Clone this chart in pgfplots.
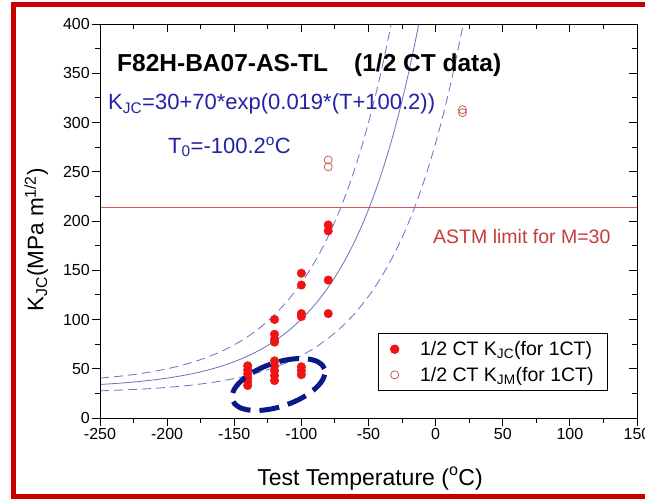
\documentclass[border=0pt]{standalone}
\usepackage{fontspec}
\setmainfont{Liberation Sans}
\usepackage{pgfplots}
\pgfplotsset{compat=1.18}
\definecolor{framered}{RGB}{200,0,0}
\definecolor{eqblue}{RGB}{35,35,165}
\definecolor{curveblue}{RGB}{110,110,195}
\definecolor{astmred}{RGB}{200,60,60}
\definecolor{limitred}{RGB}{215,85,85}
\definecolor{ptred}{RGB}{238,20,20}
\definecolor{openred}{RGB}{200,95,85}
\definecolor{navyann}{RGB}{10,25,135}
\begin{document}
\begin{tikzpicture}
\useasboundingbox (0pt,0pt) rectangle (645pt,499pt);
\fill[white] (0pt,0pt) rectangle (645pt,499pt);
\begin{axis}[
  at={(100pt,81pt)}, anchor=south west,
  scale only axis, width=537pt, height=394pt,
  xmin=-250, xmax=150, ymin=0, ymax=400,
  xtick={-250,-200,...,150}, ytick={0,50,...,400},
  minor x tick num=1, minor y tick num=1,
  xtick pos=left, ytick pos=left,
  tick align=outside,
  major tick length=8pt, minor tick length=5pt,
  every tick/.style={black, line width=0.9pt},
  axis line style={line width=1pt, black},
  tick label style={font=\fontsize{16}{19}\selectfont},
  xticklabel style={inner sep=2pt},
  yticklabel style={inner sep=2pt},
  /pgf/number format/assume math mode=true,
  legend style={at={(0.5177,0.2157)}, anchor=north west, draw=black, line width=0.8pt,
    font=\fontsize{19.5}{22}\selectfont, inner xsep=12pt, inner ysep=6pt, row sep=6pt,
    /tikz/every odd column/.append style={column sep=19pt}},
  legend cell align=left,
  legend image code/.code={\draw[mark repeat=2,mark phase=2,#1] plot coordinates {(0pt,0pt) (8pt,0pt) (16pt,0pt)};},
]
% ASTM limit
\addplot[forget plot, mark=none, line width=1pt, draw=limitred] coordinates {(-250,214) (150,214)};
% mean curve
\addplot[forget plot, curveblue, line width=0.8pt, smooth] coordinates {
(-250,34.06) (-240,34.91) (-230,35.94) (-220,37.19) (-210,38.69) (-200,40.51)
(-190,42.71) (-180,45.37) (-170,48.59) (-160,52.47) (-150,57.18) (-140,62.86)
(-130,69.74) (-120,78.05) (-110,88.11) (-100,100.27) (-95,107.27) (-90,114.97)
(-85,123.44) (-80,132.75) (-75,142.99) (-70,154.25) (-65,166.63) (-60,180.25)
(-55,195.22) (-50,211.69) (-45,229.80) (-40,249.70) (-35,271.60) (-30,295.68)
(-25,322.16) (-20,351.27) (-15,383.29) (-12.57,400)};
% upper bound
\addplot[forget plot, curveblue, line width=0.8pt, smooth, dash pattern=on 9pt off 5pt] coordinates {
(-250,40.53) (-240,41.77) (-230,43.28) (-220,45.09) (-210,47.29) (-200,49.94)
(-190,53.16) (-180,57.04) (-170,61.73) (-160,67.41) (-150,74.28) (-140,82.58)
(-130,92.62) (-120,104.76) (-110,119.44) (-100,137.19) (-95,147.41) (-90,158.66)
(-85,171.02) (-80,184.62) (-75,199.57) (-70,216.01) (-65,234.08) (-60,253.96)
(-55,275.83) (-50,299.86) (-45,326.30) (-40,355.37) (-35,387.34) (-33.15,400)};
% lower bound
\addplot[forget plot, curveblue, line width=0.8pt, smooth, dash pattern=on 9pt off 5pt] coordinates {
(-250,27.60) (-240,28.05) (-230,28.61) (-220,29.28) (-210,30.09) (-200,31.08)
(-190,32.26) (-180,33.70) (-170,35.44) (-160,37.54) (-150,40.07) (-140,43.15)
(-130,46.86) (-120,51.35) (-110,56.78) (-100,63.34) (-90,71.28) (-80,80.89)
(-70,92.50) (-60,106.53) (-50,123.51) (-45,133.29) (-40,144.04) (-35,155.87)
(-30,168.87) (-25,183.17) (-20,198.88) (-15,216.18) (-10,235.19) (-5,256.10)
(0,279.08) (5,304.37) (10,332.17) (15,362.75) (20,396.34) (20.51,400)};
% KJC data
\addplot[only marks, mark=*, mark size=4.3pt, color=ptred, mark options={draw=ptred, fill=ptred}] coordinates {
(-140,53) (-140,49) (-140,45) (-140,41) (-140,37) (-140,33)
(-120,100) (-120,85) (-120,80) (-120,77) (-120,58) (-120,53) (-120,48) (-120,43) (-120,38)
(-100,147) (-100,135) (-100,106) (-100,103) (-100,52) (-100,48) (-100,44)
(-80,196) (-80,190) (-80,140) (-80,106)};
\addlegendentry{1/2 CT K\textsubscript{JC}(for 1CT)}
% KJM data
\addplot[only marks, mark=o, mark size=4pt, color=openred, mark options={line width=0.8pt}] coordinates {
(-80,262) (-80,255) (20,313) (20,310)};
\addlegendentry{1/2 CT K\textsubscript{JM}(for 1CT)}
\end{axis}
\begin{axis}[
  at={(100pt,81pt)}, anchor=south west,
  scale only axis, width=537pt, height=394pt,
  xmin=-250, xmax=150, ymin=0, ymax=400,
  xtick={-250,-200,...,150}, ytick={0,50,...,400},
  minor x tick num=1, minor y tick num=1,
  xtick pos=right, ytick pos=right,
  tick align=inside,
  major tick length=8pt, minor tick length=5pt,
  every tick/.style={black, line width=0.9pt},
  axis line style={line width=1pt, black},
  xticklabels={}, yticklabels={},
]
\end{axis}
% annotation ellipse
\draw[navyann, line width=5pt, dash pattern=on 20pt off 9pt] (278.5pt,114.5pt) ellipse [x radius=48.6pt, y radius=21.8pt, rotate=19];
% texts
\node[anchor=base west, inner sep=0pt, font=\bfseries\fontsize{24.5}{29}\selectfont] at (117pt,427pt) {F82H-BA07-AS-TL\hspace{26pt}(1/2 CT data)};
\node[anchor=base west, inner sep=0pt, text=eqblue, font=\fontsize{22}{26}\selectfont] at (108pt,389pt) {K\textsubscript{JC}=30+70*exp(0.019*(T+100.2))};
\node[anchor=base west, inner sep=0pt, text=eqblue, font=\fontsize{22}{26}\selectfont] at (168pt,345.7pt) {T\textsubscript{0}=-100.2\textsuperscript{o}C};
\node[anchor=base west, inner sep=0pt, text=astmred, font=\fontsize{19.5}{23}\selectfont] at (433pt,256pt) {ASTM limit for M=30};
\node[anchor=base, inner sep=0pt, font=\fontsize{23}{27}\selectfont] at (370pt,14pt) {Test Temperature (\textsuperscript{o}C)};
\node[anchor=base, inner sep=0pt, rotate=90, font=\fontsize{22.5}{27}\selectfont] at (43.3pt,259pt) {K\textsubscript{JC}(MPa m\textsuperscript{1/2})};
% frame
\draw[framered, line width=5pt] (13.5pt,2.5pt) rectangle (680pt,494.8pt);
\end{tikzpicture}
\end{document}
